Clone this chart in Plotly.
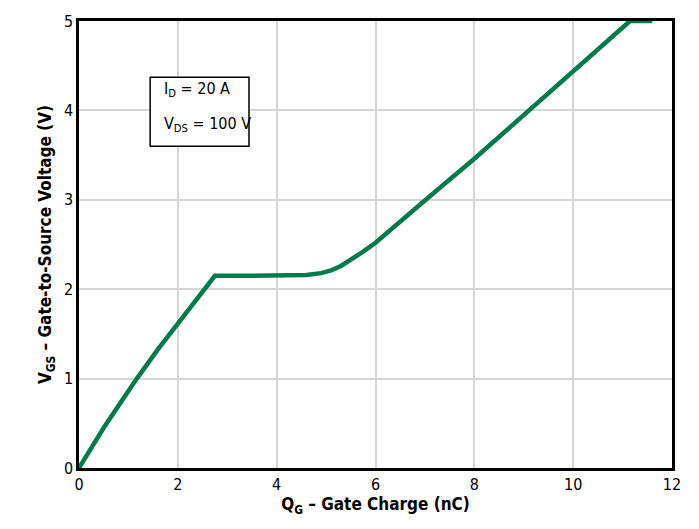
import plotly.graph_objects as go

qg = [0, 0.5, 1.17, 1.6, 2.0, 2.75, 3.5, 4.3, 4.6, 4.9, 5.1, 5.3, 5.5, 5.75, 6.0, 6.5, 7.1, 8.0, 9.0, 10.0, 11.15, 11.6]
vgs = [0, 0.45, 1.0, 1.33, 1.615, 2.15, 2.15, 2.15, 2.16, 2.18, 2.21, 2.26, 2.33, 2.42, 2.52, 2.76, 3.04, 3.46, 3.95, 4.44, 5.0, 5.0]

FONT = "DejaVu Sans Condensed, Liberation Sans, sans-serif"
GREEN = "#007a4a"

fig = go.Figure()
fig.add_trace(go.Scatter(x=qg, y=vgs, mode="lines", line=dict(color=GREEN, width=4.5),
                         cliponaxis=False, showlegend=False))

axis_common = dict(showgrid=True, gridcolor="#d6d6d6", gridwidth=2, zeroline=False,
                   showline=True, linecolor="black", linewidth=2.5, mirror=True,
                   ticks="", tickfont=dict(family=FONT, size=16, color="black"))

fig.update_xaxes(range=[0, 12], dtick=2, **axis_common,
                 title=dict(text="<b>Q<sub>G</sub> – Gate Charge (nC)</b>", font=dict(family=FONT, size=17, color="black"), standoff=6))
fig.update_yaxes(range=[0, 5], dtick=1, **axis_common,
                 title=dict(text="<b>V<sub>GS</sub> – Gate-to-Source Voltage (V)</b>", font=dict(family=FONT, size=17, color="black"), standoff=8))

fig.add_shape(type="rect", x0=1.44, x1=3.44, y0=3.6, y1=4.37, line=dict(color="black", width=1.5), fillcolor="white")
fig.add_annotation(x=1.68, y=4.23, xanchor="left", text="I<sub>D</sub> = 20 A", showarrow=False,
                   font=dict(family=FONT, size=16, color="black"))
fig.add_annotation(x=1.68, y=3.84, xanchor="left", text="V<sub>DS</sub> = 100 V", showarrow=False,
                   font=dict(family=FONT, size=16, color="black"))

fig.update_layout(width=699, height=529, margin=dict(l=79, r=27, t=15, b=61),
                  plot_bgcolor="white", paper_bgcolor="white")
fig.write_html("out.html")
